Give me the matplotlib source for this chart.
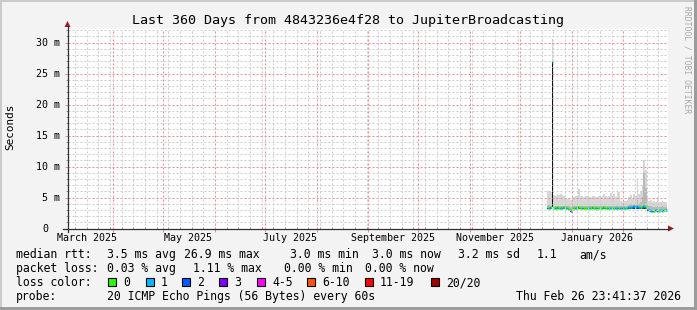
import datetime as dt
import matplotlib
matplotlib.use('Agg')
import matplotlib.pyplot as plt
import matplotlib.dates as mdates
import matplotlib.transforms as mtrans
from matplotlib.patches import Polygon, Rectangle
from matplotlib.lines import Line2D
from matplotlib.ticker import MultipleLocator, NullFormatter

W, H = 697, 310
MONO = 'DejaVu Sans Mono'

# one value per day, starting 2025-12-17, in milliseconds
first_day = dt.datetime(2025, 12, 17)
ping_max = [6.0, 6.1, 5.9, 30.5, 5.4, 5.3, 5.5, 5.4, 5.5, 5.4,
            5.3, 4.9, 4.8, 4.9, 4.6, 4.9, 5.0, 5.2, 5.1, 6.3,
            5.2, 5.2, 5.1, 5.3, 5.2, 5.0, 5.1, 5.2, 5.3, 5.1,
            5.0, 5.2, 5.1, 5.3, 5.6, 5.2, 5.1, 5.3, 5.8, 5.2,
            5.5, 5.1, 6.2, 5.9, 4.4, 4.3, 4.5, 4.4, 4.6, 5.0,
            5.4, 4.8, 5.6, 5.2, 8.2, 5.5, 6.0, 7.0, 11.0, 9.5,
            5.0, 4.4, 4.6, 4.2, 4.4, 4.2, 5.0, 4.3, 4.2, 4.5,
            4.2, 4.3]
ping_q3 = [3.7, 3.8, 3.7, 27.0, 3.7, 3.6, 3.7, 3.6, 3.7, 3.6,
           3.7, 3.6, 3.6, 3.6, 3.5, 3.6, 3.6, 3.7, 3.6, 3.7,
           3.6, 3.6, 3.6, 3.7, 3.6, 3.6, 3.6, 3.7, 3.6, 3.6,
           3.6, 3.7, 3.6, 3.7, 3.7, 3.6, 3.6, 3.7, 3.7, 3.6,
           3.7, 3.6, 3.8, 3.7, 3.6, 3.6, 3.6, 3.6, 3.7, 3.8,
           3.9, 3.8, 4.0, 3.9, 4.6, 3.9, 4.2, 5.0, 8.9, 6.5,
           3.9, 3.6, 3.6, 3.5, 3.5, 3.5, 3.6, 3.5, 3.5, 3.6,
           3.5, 3.5]
ping_median = [3.3, 3.3, 3.4, 26.9, 3.3, 3.3, 3.4, 3.3, 3.3, 3.3,
               3.4, 3.3, 3.3, 3.2, 2.9, 3.3, 3.3, 3.3, 3.3, 3.4,
               3.3, 3.3, 3.3, 3.3, 3.3, 3.3, 3.3, 3.4, 3.3, 3.3,
               3.3, 3.3, 3.3, 3.3, 3.4, 3.3, 3.3, 3.3, 3.3, 3.3,
               3.3, 3.3, 3.3, 3.3, 3.3, 3.3, 3.3, 3.3, 3.3, 3.4,
               3.4, 3.5, 3.6, 3.5, 3.6, 3.4, 3.4, 3.5, 3.6, 3.4,
               3.2, 3.0, 2.9, 2.9, 2.9, 3.0, 2.9, 2.9, 3.0, 2.9,
               3.0, 3.0]
ping_min = [3.1, 3.1, 3.1, 3.4, 3.1, 3.1, 3.1, 3.1, 3.1, 3.1,
            3.1, 3.1, 3.1, 3.0, 2.6, 3.1, 3.1, 3.1, 3.1, 3.1,
            3.1, 3.1, 3.1, 3.1, 3.1, 3.1, 3.1, 3.1, 3.1, 3.1,
            3.1, 3.1, 3.1, 3.1, 3.1, 3.1, 3.1, 3.1, 3.1, 3.1,
            3.1, 3.1, 3.1, 3.1, 3.1, 3.1, 3.1, 3.1, 3.1, 3.1,
            3.2, 3.2, 3.2, 3.2, 3.2, 3.1, 3.1, 3.1, 3.1, 3.1,
            2.9, 2.8, 2.7, 2.7, 2.7, 2.8, 2.7, 2.7, 2.8, 2.7,
            2.8, 2.8]
lost = [0, 1, 0, 1, 0, 1, 0, 0, 1, 0,
        0, 1, 0, 0, 1, 0, 0, 1, 0, 0,
        0, 1, 0, 0, 0, 1, 0, 0, 0, 1,
        0, 0, 0, 1, 0, 0, 1, 0, 1, 1,
        0, 1, 1, 0, 1, 1, 1, 0, 1, 1,
        1, 1, 1, 1, 1, 1, 0, 1, 1, 0,
        1, 1, 1, 1, 0, 1, 1, 0, 1, 1,
        0, 1]

loss_labels = ['0', '1', '2', '3', '4-5', '6-10', '11-19', '20/20']
loss_colors = ['#26ff00', '#00b8ff', '#0059ff', '#7e00ff',
               '#ff00ff', '#ff5500', '#ff0000', '#a10000']

month_labels = ['March 2025', 'May 2025', 'July 2025',
                'September 2025', 'November 2025', 'January 2026']
label_dates = [dt.datetime(2025, 3, 16), dt.datetime(2025, 5, 16),
               dt.datetime(2025, 7, 16), dt.datetime(2025, 9, 16),
               dt.datetime(2025, 11, 16), dt.datetime(2026, 1, 16)]
y_ticks = [0, 5, 10, 15, 20, 25, 30]

t_start = dt.datetime(2025, 3, 4, 12)
t_end = t_start + dt.timedelta(days=360)


def fx(x):
    return x / W


def fy(y):
    return 1 - y / H


fig = plt.figure(figsize=(W / 100, H / 100), dpi=100, facecolor='#f3f3f3')

# 3d-ish frame
fig.add_artist(Rectangle((0, fy(2)), 1, 2 / H, transform=fig.transFigure,
                         color='#cbcbcb', lw=0))
fig.add_artist(Rectangle((0, 0), 2 / W, 1, transform=fig.transFigure,
                         color='#cbcbcb', lw=0))
fig.add_artist(Rectangle((0, 0), 1, 3 / H, transform=fig.transFigure,
                         color='#9c9c9c', lw=0))
fig.add_artist(Rectangle((fx(694), 0), 3 / W, 1, transform=fig.transFigure,
                         color='#9c9c9c', lw=0))

x0, y0, pw, ph = 67.5, 228.5, 600, 200
ax = fig.add_axes([fx(x0), fy(y0), pw / W, ph / H])
ax.set_facecolor('white')
for s in ax.spines.values():
    s.set_visible(False)

edges = [first_day + dt.timedelta(days=i) for i in range(len(ping_median) + 1)]
xe = mdates.date2num(edges)


def stepped(vals):
    return list(vals) + [vals[-1]]


ax.fill_between(xe, stepped(ping_min), stepped(ping_max), step='post',
                color='#d6d6d6', lw=0)
ax.fill_between(xe, stepped(ping_min), stepped(ping_q3), step='post',
                color='#b8b8b8', lw=0)
ax.fill_between(xe, stepped(ping_min), stepped(ping_median), step='post',
                color='#141414', lw=0)
ax.hlines(ping_median, xe[:-1], xe[1:],
          colors=[loss_colors[n] for n in lost], lw=1.8)

ax.set_xlim(mdates.date2num(t_start), mdates.date2num(t_end))
ax.set_ylim(0, ph / 6.2)

ax.xaxis.set_major_locator(mdates.MonthLocator())
ax.xaxis.set_minor_locator(mdates.WeekdayLocator(byweekday=mdates.SU))
ax.yaxis.set_major_locator(MultipleLocator(5))
ax.yaxis.set_minor_locator(MultipleLocator(1))
ax.xaxis.set_major_formatter(NullFormatter())
ax.yaxis.set_major_formatter(NullFormatter())

ax.set_axisbelow(False)
ax.grid(True, which='major', color='#f08c8c', linestyle=(0, (2, 2)), lw=0.72)
ax.grid(True, which='minor', color='#cccccc', linestyle=(0, (2, 2)), lw=0.72)
ax.tick_params(axis='y', which='major', direction='out', length=2.2,
               width=0.72, color='#f08c8c')
ax.tick_params(axis='y', which='minor', direction='out', length=1.5,
               width=0.72, color='#999999')
ax.tick_params(axis='x', which='major', direction='out', length=2.2,
               width=0.72, color='#f08c8c')
ax.tick_params(axis='x', which='minor', direction='in', length=1.5,
               width=0.72, color='#999999')

# axis lines with arrow heads
axis_col = '#303030'
arrow_col = '#9b1c1c'
fig.add_artist(Line2D([fx(63), fx(669)], [fy(y0), fy(y0)],
                      transform=fig.transFigure, color=axis_col, lw=0.9))
fig.add_artist(Line2D([fx(x0), fx(x0)], [fy(232), fy(26)],
                      transform=fig.transFigure, color=axis_col, lw=0.9))
fig.add_artist(Polygon([(fx(668), fy(y0 - 3)), (fx(668), fy(y0 + 3)),
                        (fx(674), fy(y0))], closed=True,
                       transform=fig.transFigure, color=arrow_col, lw=0))
fig.add_artist(Polygon([(fx(x0 - 3), fy(27)), (fx(x0 + 3), fy(27)),
                        (fx(x0), fy(21))], closed=True,
                       transform=fig.transFigure, color=arrow_col, lw=0))

# y tick labels (RRDtool style "5 m")
char_w = 0.602 * 7.2 * 100 / 72
for v in y_ticks:
    lab = '0' if v == 0 else '%d m' % v
    dx = -7.5 if v else -7.5 - 2 * char_w
    tr = mtrans.offset_copy(ax.get_yaxis_transform(), fig=fig, x=dx, y=-3.6,
                            units='dots')
    ax.text(0, v, lab, transform=tr, ha='right', va='baseline',
            family=MONO, size=7.2, clip_on=False)

# x tick labels
for d, lab in zip(label_dates, month_labels):
    tr = mtrans.offset_copy(ax.get_xaxis_transform(), fig=fig, x=0, y=-12.5,
                            units='dots')
    ax.text(mdates.date2num(d), 0, lab, transform=tr, ha='center',
            va='baseline', family=MONO, size=7.2, clip_on=False)

fig.text(fx(348), fy(24), 'Last 360 Days from 4843236e4f28 to JupiterBroadcasting',
         ha='center', va='baseline', family=MONO, size=9.6)
fig.text(fx(10.5), fy(127), 'Seconds', rotation=90, ha='center', va='center',
         family=MONO, size=7.9)
fig.text(fx(687.5), fy(60), 'RRDTOOL / TOBI OETIKER', rotation=270,
         ha='center', va='center', family=MONO, size=5.8, color='#a8a8a8')

# legend rows
LS = 8.3
rows = [
    (258, [(16, 'median rtt:'), (107, '3.5 ms avg'), (184, '26.9 ms max'),
           (290, '3.0 ms min'), (372, '3.0 ms now'), (458, '3.2 ms sd'),
           (537, '1.1'), (579, 'am/s')]),
    (272, [(16, 'packet loss:'), (107, '0.03 % avg'), (193, '1.11 % max'),
           (284, '0.00 % min'), (365, '0.00 % now')]),
    (286, [(16, 'loss color:')]),
    (300, [(16, 'probe:'), (107, '20 ICMP Echo Pings (56 Bytes) every 60s')]),
]
for base, items in rows:
    for x, s in items:
        fig.text(fx(x), fy(base), s, ha='left', va='baseline',
                 family=MONO, size=LS)

box_x = [108, 146, 182, 219, 257, 307, 365, 431]
for bx, lab, col in zip(box_x, loss_labels, loss_colors):
    fig.add_artist(Rectangle((fx(bx), fy(286)), 8 / W, 8 / H,
                             transform=fig.transFigure, facecolor=col,
                             edgecolor='black', lw=0.8))
    fig.text(fx(bx + 15), fy(286), lab, ha='left', va='baseline',
             family=MONO, size=LS)

fig.text(fx(681), fy(300), 'Thu Feb 26 23:41:37 2026', ha='right',
         va='baseline', family=MONO, size=LS)

fig.savefig('out.png', dpi=100, facecolor=fig.get_facecolor())
